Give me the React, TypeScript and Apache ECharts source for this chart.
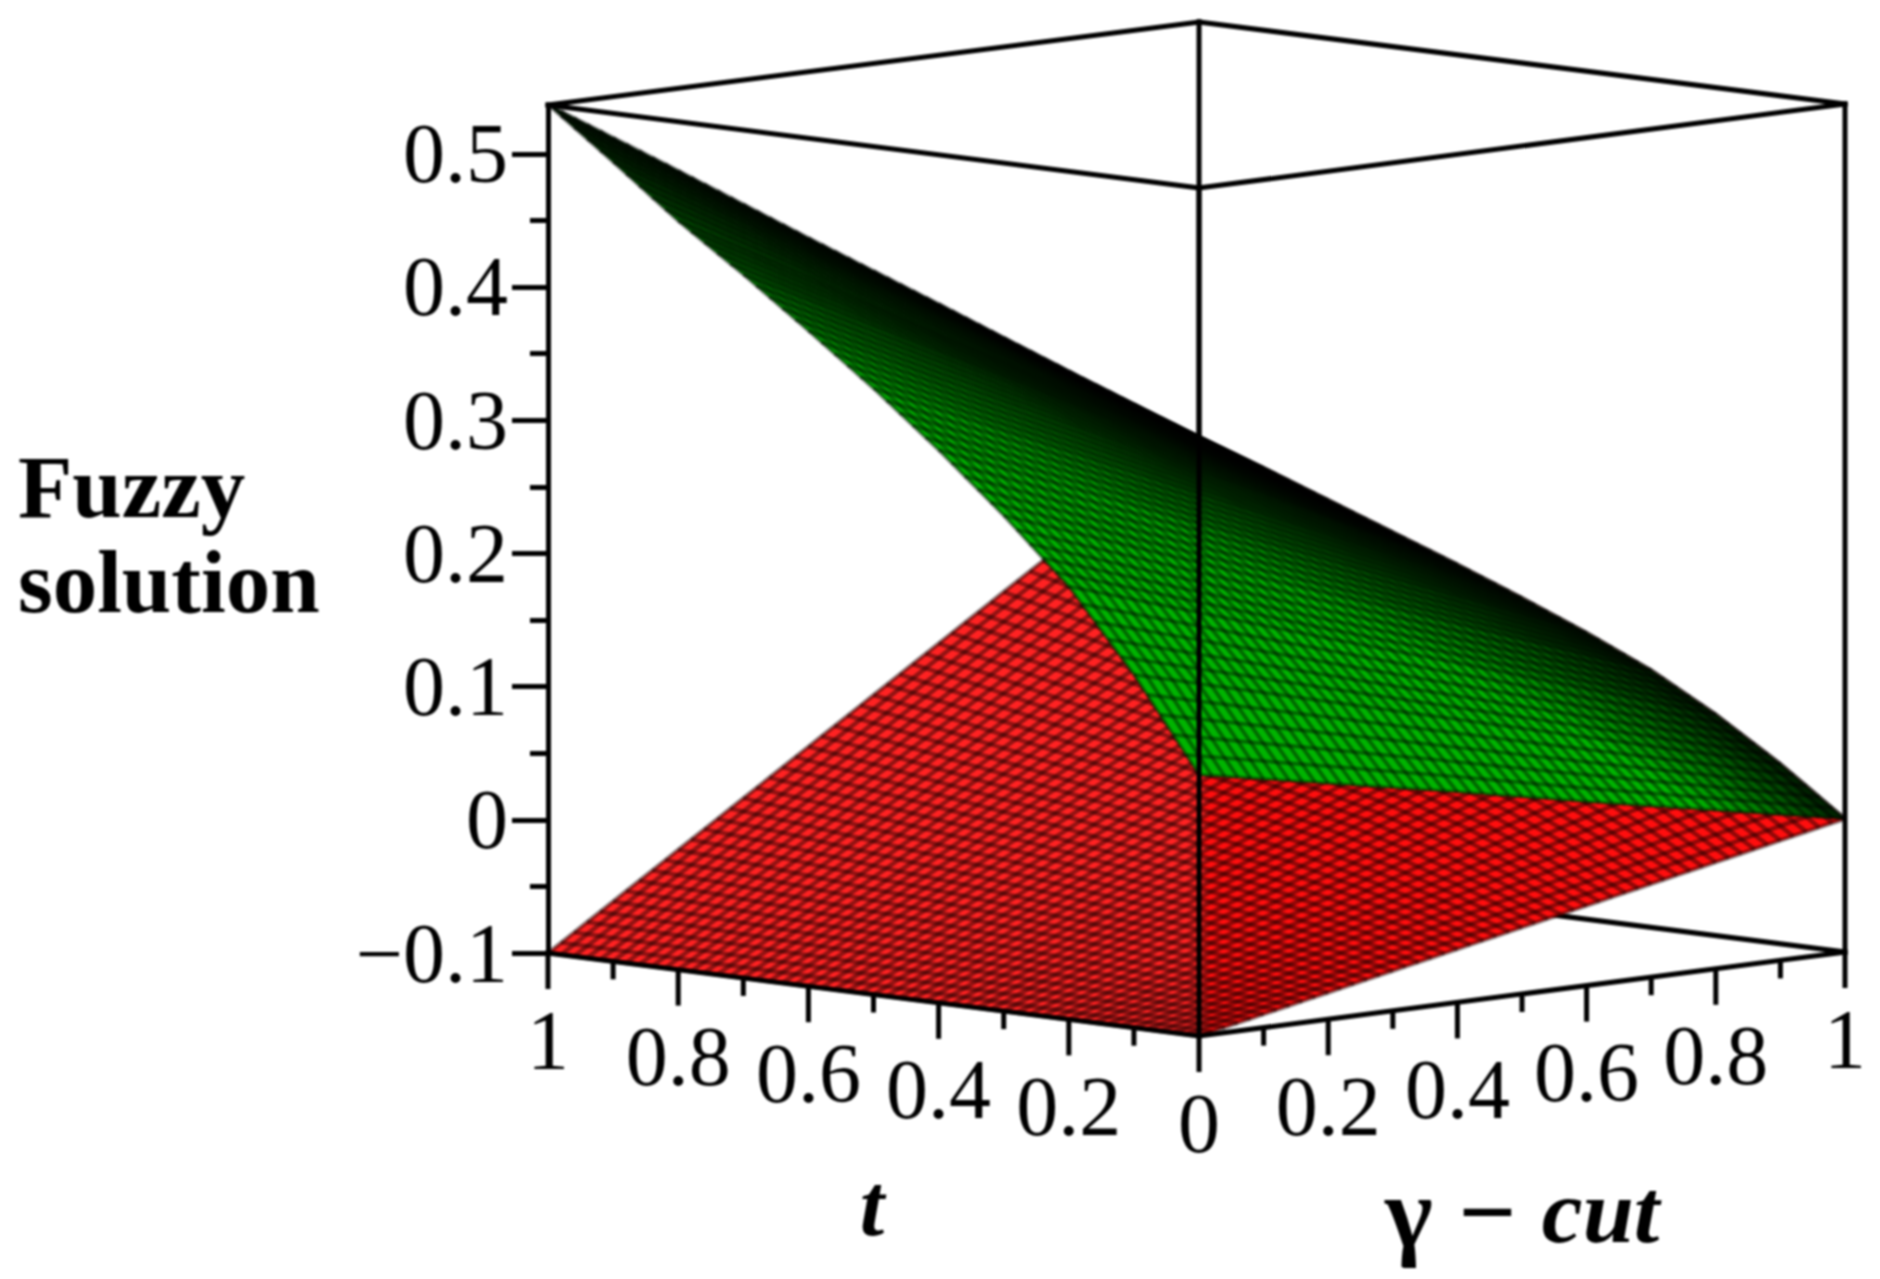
import React, { useEffect, useRef } from "react";
import * as echarts from "echarts";

// ---- data ----
const T_VALUES = [0, 0.1, 0.2, 0.3, 0.4, 0.5, 0.6, 0.7, 0.8, 0.9, 1];
const GAMMA_VALUES = [0, 0.2, 0.4, 0.6, 0.8, 1];
// rows: t, columns: gamma
const UPPER_SURFACE = [
  [0.096, 0.077, 0.058, 0.038, 0.019, 0],
  [0.165, 0.139, 0.113, 0.087, 0.061, 0.035],
  [0.225, 0.193, 0.161, 0.13, 0.098, 0.066],
  [0.272, 0.236, 0.2, 0.165, 0.129, 0.093],
  [0.315, 0.275, 0.235, 0.195, 0.155, 0.115],
  [0.355, 0.311, 0.267, 0.223, 0.179, 0.135],
  [0.392, 0.344, 0.297, 0.249, 0.202, 0.154],
  [0.428, 0.377, 0.326, 0.274, 0.223, 0.172],
  [0.462, 0.408, 0.353, 0.299, 0.244, 0.19],
  [0.5, 0.442, 0.383, 0.325, 0.266, 0.208],
  [0.537, 0.475, 0.412, 0.35, 0.287, 0.225],
];
const LOWER_SURFACE = [
  [-0.1, -0.08, -0.06, -0.04, -0.02, 0],
  [-0.1, -0.073, -0.046, -0.019, 0.008, 0.035],
  [-0.1, -0.067, -0.034, 0, 0.033, 0.066],
  [-0.1, -0.061, -0.023, 0.016, 0.054, 0.093],
  [-0.1, -0.057, -0.014, 0.029, 0.072, 0.115],
  [-0.1, -0.053, -0.006, 0.041, 0.088, 0.135],
  [-0.1, -0.049, 0.002, 0.052, 0.103, 0.154],
  [-0.1, -0.046, 0.009, 0.063, 0.118, 0.172],
  [-0.1, -0.042, 0.016, 0.074, 0.132, 0.19],
  [-0.1, -0.038, 0.023, 0.085, 0.146, 0.208],
  [-0.1, -0.035, 0.03, 0.095, 0.16, 0.225],
];
const Z_MAJOR = [-0.1, 0, 0.1, 0.2, 0.3, 0.4, 0.5];
const Z_MINOR = [-0.05, 0.05, 0.15, 0.25, 0.35, 0.45];
const T_TICKS = [1, 0.8, 0.6, 0.4, 0.2, 0];
const GAMMA_TICKS = [0.2, 0.4, 0.6, 0.8, 1];
const MINOR_TICKS = [0.1, 0.3, 0.5, 0.7, 0.9];
const T_TICK_LABELS = ["1", "0.8", "0.6", "0.4", "0.2", "0"];
const GAMMA_TICK_LABELS = ["0.2", "0.4", "0.6", "0.8", "1"];

// ---- projection and style constants ----
const Z_MIN = -0.1;
const Z_MAX = 0.5366;
const PX_PER_Z = 1332;
const H_FRONT = 0.0039; // horizontal axis position of the front and back corners
const OFF_FRONT = 83 / PX_PER_Z;
const OFF_RIGHT = -1 / PX_PER_Z;
const OFF_BACK = -83 / PX_PER_Z;
const MESH_T = 5;
const MESH_G = 10;
const FONT = '"Liberation Serif"';

function surfaceAt(table: number[][], t: number, g: number) {
  const ti = Math.min(T_VALUES.length - 2, Math.floor(t * 10 + 1e-9));
  const gi = Math.min(GAMMA_VALUES.length - 2, Math.floor(g * 5 + 1e-9));
  const ft = (t - T_VALUES[ti]) / 0.1;
  const fg = (g - GAMMA_VALUES[gi]) / 0.2;
  return (
    table[ti][gi] * (1 - ft) * (1 - fg) +
    table[ti + 1][gi] * ft * (1 - fg) +
    table[ti][gi + 1] * (1 - ft) * fg +
    table[ti + 1][gi + 1] * ft * fg
  );
}

function horizontal(t: number, g: number) {
  return (1 - t) * (1 - g) * H_FRONT - t * (1 - g) + (1 - t) * g + t * g * H_FRONT;
}

function project(api: any, t: number, g: number, z: number) {
  const off = (1 - t) * (1 - g) * OFF_FRONT + (1 - t) * g * OFF_RIGHT + t * g * OFF_BACK;
  return api.coord([horizontal(t, g), z - off]);
}

function greenFill(api: any, t: number, g: number) {
  const y = project(api, t, g, surfaceAt(UPPER_SURFACE, t, g))[1];
  const h = g - t;
  const tt = h <= 0 ? 1 : 1 - h;
  const gg = h <= 0 ? 1 + h : 1;
  const top = project(api, tt, gg, surfaceAt(UPPER_SURFACE, tt, gg))[1];
  const b = Math.min(1, Math.max(0, (y - top) / 105));
  const v = Math.round(22 + 158 * Math.pow(b, 0.8));
  return `rgb(0,${v},0)`;
}

function fillItem(table: number[][], colorFn: (api: any, t: number, g: number) => string) {
  return (params: any, api: any) => {
    const i = api.value(0);
    const j = api.value(1);
    const children: any[] = [];
    for (let a = 0; a < MESH_T; a++) {
      for (let b = 0; b < MESH_G; b++) {
        const t0 = (i * MESH_T + a) / (10 * MESH_T);
        const t1 = (i * MESH_T + a + 1) / (10 * MESH_T);
        const g0 = (j * MESH_G + b) / (5 * MESH_G);
        const g1 = (j * MESH_G + b + 1) / (5 * MESH_G);
        const fill = colorFn(api, (t0 + t1) / 2, (g0 + g1) / 2);
        children.push({
          type: "polygon",
          shape: {
            points: [
              project(api, t0, g0, surfaceAt(table, t0, g0)),
              project(api, t1, g0, surfaceAt(table, t1, g0)),
              project(api, t1, g1, surfaceAt(table, t1, g1)),
              project(api, t0, g1, surfaceAt(table, t0, g1)),
            ],
          },
          style: { fill, stroke: fill, lineWidth: 0.8 },
        });
      }
    }
    return { type: "group", children };
  };
}

function meshItem(table: number[][], stroke: string, width: number) {
  return (params: any, api: any) => {
    const dir = api.value(0);
    const k = api.value(1) / 50;
    const points: number[][] = [];
    for (let n = 0; n <= 50; n++) {
      const u = n / 50;
      const t = dir === 0 ? k : u;
      const g = dir === 0 ? u : k;
      points.push(project(api, t, g, surfaceAt(table, t, g)));
    }
    return { type: "polyline", shape: { points }, style: { fill: "none", stroke, lineWidth: width } };
  };
}

const cellData: number[][] = [];
for (let i = 0; i < 10; i++) for (let j = 0; j < 5; j++) cellData.push([i, j]);
const meshData: number[][] = [];
for (let k = 0; k <= 50; k++) {
  meshData.push([0, k]);
  meshData.push([1, k]);
}

// box edges as [t, gamma, z] pairs
const BACK_EDGES = [
  [1, 0, Z_MIN, 1, 1, Z_MIN],
  [1, 1, Z_MIN, 0, 1, Z_MIN],
  [1, 1, Z_MIN, 1, 1, Z_MAX],
];
const FRONT_EDGES = [
  [1, 0, Z_MAX, 1, 1, Z_MAX],
  [1, 1, Z_MAX, 0, 1, Z_MAX],
  [0, 1, Z_MAX, 0, 0, Z_MAX],
  [0, 0, Z_MAX, 1, 0, Z_MAX],
  [0, 0, Z_MAX, 0, 0, Z_MIN],
  [0, 1, Z_MAX, 0, 1, Z_MIN],
  [1, 0, Z_MIN, 0, 0, Z_MIN],
  [0, 0, Z_MIN, 0, 1, Z_MIN],
];

function edgeItem(params: any, api: any) {
  const d = [0, 1, 2, 3, 4, 5].map((n) => api.value(n));
  const a = project(api, d[0], d[1], d[2]);
  const b = project(api, d[3], d[4], d[5]);
  return {
    type: "line",
    shape: { x1: a[0], y1: a[1], x2: b[0], y2: b[1] },
    style: { stroke: "#000", lineWidth: 5, lineCap: "square" },
  };
}

// ticks: [t, gamma, length in px]
const tickData: number[][] = [
  ...T_TICKS.map((t) => [t, 0, 36]),
  ...GAMMA_TICKS.map((g) => [0, g, 36]),
  ...MINOR_TICKS.map((t) => [t, 0, 18]),
  ...MINOR_TICKS.map((g) => [0, g, 18]),
];

function tickItem(params: any, api: any) {
  const p = project(api, api.value(0), api.value(1), Z_MIN);
  return {
    type: "line",
    shape: { x1: p[0], y1: p[1], x2: p[0], y2: p[1] + api.value(2) },
    style: { stroke: "#000", lineWidth: 5 },
  };
}

const labelData: number[][] = [
  ...T_TICKS.map((t) => [t, 0]),
  ...GAMMA_TICKS.map((g) => [0, g]),
];
const labelTexts = [...T_TICK_LABELS, ...GAMMA_TICK_LABELS];

function labelItem(params: any, api: any) {
  const p = project(api, api.value(0), api.value(1), Z_MIN);
  return {
    type: "text",
    style: {
      x: p[0],
      y: p[1] + 87,
      text: labelTexts[params.dataIndex],
      font: `84px ${FONT}`,
      fill: "#000",
      align: "center",
      verticalAlign: "middle",
    },
  };
}

export default function App() {
  const ref = useRef<HTMLDivElement>(null);
  useEffect(() => {
    document.body.style.margin = "0";
    const chart = echarts.init(ref.current!, null, { renderer: "svg" });
    const axisBase = { type: "value", min: Z_MIN, max: Z_MAX, position: "left", splitLine: { show: false } };
    chart.setOption({
      animation: false,
      backgroundColor: "#fff",
      grid: { left: 548, top: 105, width: 1297, height: 848 },
      xAxis: { type: "value", min: -1, max: 1, show: false },
      yAxis: [
        {
          ...axisBase,
          interval: 0.1,
          z: 10,
          axisLine: { show: true, onZero: false, lineStyle: { color: "#000", width: 5 } },
          axisTick: {
            show: true,
            customValues: Z_MAJOR,
            length: 36,
            lineStyle: { color: "#000", width: 5 },
          },
          axisLabel: {
            show: true,
            customValues: Z_MAJOR,
            margin: 40,
            color: "#000",
            fontFamily: FONT,
            fontSize: 84,
            formatter: (v: number) =>
              v === 0 ? "0" : v < 0 ? "\u2212" + Math.abs(v).toFixed(1) : v.toFixed(1),
          },
        },
        {
          ...axisBase,
          z: 10,
          axisLine: { show: false, onZero: false },
          axisTick: {
            show: true,
            customValues: Z_MINOR,
            length: 18,
            lineStyle: { color: "#000", width: 5 },
          },
          axisLabel: { show: false },
        },
      ],
      graphic: [
        { type: "text", x: 18, y: 487, style: { text: "Fuzzy", font: `bold 89px ${FONT}`, fill: "#000", verticalAlign: "middle" } },
        { type: "text", x: 18, y: 582, style: { text: "solution", font: `bold 89px ${FONT}`, fill: "#000", verticalAlign: "middle" } },
        { type: "text", x: 872, y: 1205, style: { text: "t", font: `italic bold 88px ${FONT}`, fill: "#000", align: "center", verticalAlign: "middle" } },
        {
          type: "text",
          x: 1385,
          y: 1211,
          style: {
            text: "{g|\u03b3 \u2212 }{c|cut}",
            verticalAlign: "middle",
            rich: {
              g: { font: `bold 102px ${FONT}`, fill: "#000" },
              c: { font: `italic bold 92px ${FONT}`, fill: "#000" },
            },
          },
        },
      ],
      series: [
        { type: "custom", name: "box back", coordinateSystem: "cartesian2d", silent: true, z: 2, data: BACK_EDGES, renderItem: edgeItem },
        {
          type: "custom",
          name: "lower fuzzy solution",
          coordinateSystem: "cartesian2d",
          silent: true,
          z: 3,
          data: cellData,
          renderItem: fillItem(LOWER_SURFACE, (api, t, g) => (g - t > 0 ? "rgb(255,14,14)" : "rgb(255,34,34)")),
        },
        { type: "custom", name: "lower mesh", coordinateSystem: "cartesian2d", silent: true, z: 4, data: meshData, renderItem: meshItem(LOWER_SURFACE, "rgba(20,0,0,0.46)", 4.4) },
        { type: "custom", name: "upper fuzzy solution", coordinateSystem: "cartesian2d", silent: true, z: 5, data: cellData, renderItem: fillItem(UPPER_SURFACE, greenFill) },
        { type: "custom", name: "upper mesh", coordinateSystem: "cartesian2d", silent: true, z: 6, data: meshData, renderItem: meshItem(UPPER_SURFACE, "rgba(0,0,0,0.4)", 4) },
        { type: "custom", name: "box front", coordinateSystem: "cartesian2d", silent: true, z: 7, data: FRONT_EDGES, renderItem: edgeItem },
        { type: "custom", name: "ticks", coordinateSystem: "cartesian2d", silent: true, z: 7, data: tickData, renderItem: tickItem },
        { type: "custom", name: "tick labels", coordinateSystem: "cartesian2d", silent: true, z: 7, data: labelData, renderItem: labelItem },
      ],
    });
    return () => chart.dispose();
  }, []);
  return (
    <div
      ref={ref}
      style={{ position: "absolute", left: 0, top: 0, width: 1880, height: 1279, filter: "blur(0.8px)" }}
    />
  );
}
